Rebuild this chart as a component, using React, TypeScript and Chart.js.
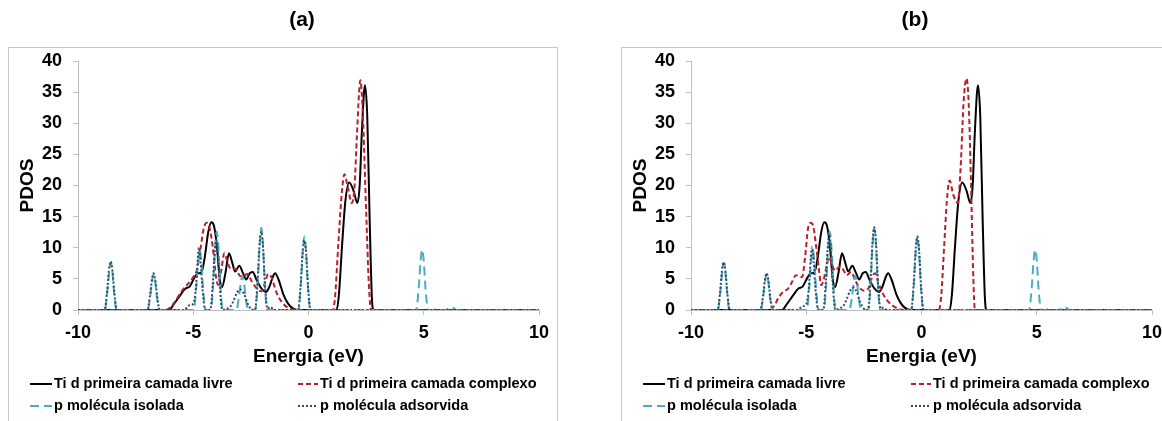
import React, { useEffect, useRef } from "react";
import { Chart, registerables } from "chart.js";

Chart.register(...registerables);

// ---------- data ----------
const xTickStep = 5;
const yTickStep = 5;
const xMin = -10;
const xMax = 10;
const yMin = 0;
const yMax = 40;

const seriesLabels = [
  "Ti d primeira camada livre",
  "Ti d primeira camada complexo",
  "p molécula isolada",
  "p molécula adsorvida",
];

// Ti d first layer, free surface (same in both panels)
const tiLivreE = [-10, -6.05, -5.85, -5.6, -5.35, -5.15, -4.95, -4.8, -4.65, -4.5, -4.35, -4.22, -4.1, -3.98, -3.85, -3.75, -3.6, -3.45, -3.3, -3.18, -3.0, -2.85, -2.7, -2.55, -2.42, -2.25, -2.05, -1.85, -1.7, -1.55, -1.45, -1.3, -1.1, -0.9, -0.7, -0.45, 1.22, 1.32, 1.45, 1.6, 1.77, 1.95, 2.12, 2.22, 2.32, 2.45, 2.55, 2.65, 2.75, 2.82, 10];
const tiLivreV = [0, 0, 0.9, 2.2, 3.4, 3.8, 5.2, 5.9, 6.0, 8.5, 12.5, 14.1, 13.5, 10.5, 5.0, 3.7, 6.0, 9.1, 7.5, 6.2, 7.1, 6.0, 4.9, 5.9, 6.1, 4.8, 3.5, 2.9, 3.7, 5.3, 5.9, 4.9, 2.6, 1.1, 0.3, 0, 0, 2.5, 10, 17.5, 20.5, 19.2, 17.2, 20, 29, 36.1, 31, 15, 2, 0, 0];

// Ti d first layer, complex — panel (a)
const tiComplexoAE = [-10, -6.2, -6.0, -5.8, -5.6, -5.4, -5.2, -5.0, -4.85, -4.7, -4.55, -4.42, -4.3, -4.15, -4.0, -3.9, -3.78, -3.65, -3.5, -3.35, -3.15, -2.98, -2.85, -2.65, -2.45, -2.2, -2.05, -1.9, -1.75, -1.6, -1.4, -1.2, -0.95, -0.7, -0.5, 1.05, 1.15, 1.3, 1.45, 1.56, 1.7, 1.88, 2.0, 2.1, 2.25, 2.35, 2.5, 2.62, 2.72, 10];
const tiComplexoAV = [0, 0, 0.4, 1.3, 2.5, 3.5, 4.3, 5.3, 6.3, 9.5, 13, 14, 13.3, 10, 5, 4.0, 6.5, 9.1, 7.5, 6.5, 6.6, 5.5, 5.4, 5.8, 4.5, 3.3, 3.0, 4.2, 5.8, 5.2, 2.9, 1.5, 0.5, 0.1, 0, 0, 2, 11, 19, 21.8, 19.8, 17.2, 20, 28, 36.9, 32, 16, 4, 0, 0];

// Ti d first layer, complex — panel (b)
const tiComplexoBE = [-10, -6.6, -6.4, -6.2, -6.0, -5.8, -5.6, -5.45, -5.3, -5.18, -5.05, -4.92, -4.82, -4.7, -4.58, -4.45, -4.35, -4.25, -4.12, -4.0, -3.9, -3.75, -3.55, -3.4, -3.25, -3.05, -2.9, -2.75, -2.5, -2.3, -2.12, -2.0, -1.88, -1.7, -1.5, -1.25, -1.0, -0.8, 0.75, 0.85, 0.98, 1.1, 1.22, 1.38, 1.57, 1.7, 1.82, 1.95, 2.05, 2.15, 2.25, 2.32, 10];
const tiComplexoBV = [0, 0, 0.6, 2.0, 2.9, 3.4, 4.6, 5.6, 5.4, 5.3, 8.5, 13.2, 14, 13.5, 10.5, 6.5, 4.0, 4.8, 7.0, 8.5, 7.5, 6.3, 7.0, 6.5, 5.6, 6.1, 5.0, 3.9, 3.1, 3.5, 5.5, 5.9, 4.5, 2.8, 1.6, 0.7, 0.2, 0, 0, 2, 10, 17.5, 20.8, 18.5, 17.2, 23, 33, 37.2, 33, 20, 5, 0, 0];

// p states of the isolated molecule (same in both panels)
const pIsoladaE = [-10, -8.84, -8.73, -8.65, -8.58, -8.51, -8.43, -8.33, -6.98, -6.87, -6.79, -6.72, -6.65, -6.57, -6.46, -4.98, -4.87, -4.79, -4.72, -4.65, -4.57, -4.46, -4.24, -4.13, -4.05, -3.98, -3.91, -3.83, -3.72, -3.13, -3.02, -2.94, -2.87, -2.8, -2.72, -2.61, -2.31, -2.2, -2.12, -2.05, -1.98, -1.9, -1.79, -0.44, -0.33, -0.25, -0.18, -0.11, -0.03, 0.08, 4.67, 4.78, 4.86, 4.93, 5.0, 5.08, 5.19, 5.4, 5.55, 5.7, 5.95, 6.2, 6.45, 10];
const pIsoladaV = [0, 0, 2.8, 6.0, 7.6, 6.2, 2.6, 0, 0, 2.1, 4.5, 5.8, 4.7, 1.9, 0, 0, 3.5, 7.6, 9.6, 7.8, 3.3, 0, 0, 4.5, 10.0, 12.6, 10.2, 4.3, 0, 0, 2.0, 4.3, 5.5, 4.5, 1.8, 0, 0, 4.7, 10.5, 13.2, 10.7, 4.5, 0, 0, 4.2, 9.3, 11.8, 9.5, 4.0, 0, 0, 3.5, 7.7, 9.7, 7.9, 3.3, 0, 0, 0.25, 0, 0, 0.5, 0, 0];

// p states of the adsorbed molecule
const pAdsorvidaE = [-10, -8.85, -8.74, -8.66, -8.58, -8.5, -8.42, -8.31, -6.99, -6.88, -6.8, -6.72, -6.64, -6.56, -6.45, -5.4, -5.15, -5.0, -4.88, -4.81, -4.75, -4.68, -4.6, -4.48, -4.26, -4.15, -4.07, -4.0, -3.93, -3.85, -3.74, -3.55, -3.4, -3.25, -3.1, -2.95, -2.8, -2.65, -2.5, -2.32, -2.21, -2.13, -2.05, -1.97, -1.89, -1.78, -1.65, -1.5, -0.45, -0.34, -0.26, -0.18, -0.1, -0.02, 0.09, 10];
const pAdsorvidaAV = [0, 0, 2.9, 6.3, 7.8, 6.1, 2.7, 0, 0, 2.2, 4.7, 5.9, 4.6, 2.0, 0, 0, 0.8, 1.0, 3.8, 7.8, 10.0, 7.7, 3.4, 0, 0, 4.2, 9.2, 11.3, 9.0, 4.0, 0, 0.2, 0.5, 1.5, 2.8, 3.3, 2.6, 1.1, 0.2, 0, 4.5, 10.1, 12.6, 10.0, 4.2, 0.2, 0.5, 0, 0, 4.0, 9.0, 11.2, 9.0, 3.8, 0, 0];
const pAdsorvidaBV = [0, 0, 2.8, 6.2, 7.7, 6.0, 2.6, 0, 0, 2.1, 4.6, 5.9, 4.7, 2.0, 0, 0, 0.6, 0.9, 3.9, 8.0, 10.1, 7.8, 3.3, 0, 0, 4.6, 9.9, 12.2, 9.8, 4.2, 0, 0.3, 0.6, 1.7, 3.1, 3.6, 2.8, 1.2, 0.2, 0, 4.8, 10.7, 13.3, 10.6, 4.4, 0.2, 0.4, 0, 0, 4.1, 9.4, 11.8, 9.3, 3.9, 0, 0];

// ---------- styles ----------
const FONT = "'Liberation Sans', Arial, Helvetica, sans-serif";
const colors = ["#000000", "#b8202c", "#4bacc6", "#2f4c66"];
const dashes: number[][] = [[], [5, 3], [9, 5], [2, 2]];

const zip = (xs: number[], ys: number[]) => {
  const n = Math.min(xs.length, ys.length);
  const out: { x: number; y: number }[] = [];
  for (let i = 0; i < n; i++) out.push({ x: xs[i], y: ys[i] });
  return out;
};

function makeDatasets(tiC: [number[], number[]], pAds: [number[], number[]]) {
  const sources: [number[], number[]][] = [
    [tiLivreE, tiLivreV],
    tiC,
    [pIsoladaE, pIsoladaV],
    pAds,
  ];
  return sources.map((s, i) => ({
    label: seriesLabels[i],
    data: zip(s[0], s[1]),
    borderColor: colors[i],
    backgroundColor: colors[i],
    borderWidth: 2,
    borderDash: dashes[i],
    pointRadius: 0,
    fill: false,
    cubicInterpolationMode: "monotone" as const,
    order: 4 - i,
  }));
}

function decorPlugin(panelLabel: string) {
  return {
    id: "decor",
    beforeDraw(chart: any) {
      const ctx = chart.ctx;
      ctx.save();
      ctx.fillStyle = "#ffffff";
      ctx.fillRect(0, 0, chart.width, chart.height);
      ctx.strokeStyle = "#c8c8c8";
      ctx.lineWidth = 1;
      ctx.strokeRect(8.5, 47.5, 549, 420);
      ctx.restore();
    },
    afterDraw(chart: any) {
      const ctx = chart.ctx;
      ctx.save();
      // panel title
      ctx.fillStyle = "#000";
      ctx.font = `bold 21px ${FONT}`;
      ctx.textAlign = "center";
      ctx.textBaseline = "middle";
      ctx.fillText(panelLabel, 302, 20);
      // legend (2 x 2)
      const slots = [
        { x: 30, w: 22, y: 384 },
        { x: 298, w: 20, y: 384 },
        { x: 30, w: 22, y: 406 },
        { x: 298, w: 20, y: 406 },
      ];
      ctx.font = `bold 14.5px ${FONT}`;
      ctx.textAlign = "left";
      chart.data.datasets.forEach((ds: any, i: number) => {
        const s = slots[i];
        ctx.beginPath();
        ctx.strokeStyle = ds.borderColor;
        ctx.lineWidth = 2;
        ctx.setLineDash(ds.borderDash || []);
        ctx.moveTo(s.x, s.y);
        ctx.lineTo(s.x + s.w, s.y);
        ctx.stroke();
        ctx.setLineDash([]);
        ctx.fillStyle = "#000";
        ctx.fillText(ds.label, s.x + s.w + 2, s.y);
      });
      ctx.restore();
    },
  };
}

const tickFont = { family: FONT, size: 18, weight: "bold" as const };
const titleFont = { family: FONT, size: 19, weight: "bold" as const };

function Panel({ panelLabel, left, tiC, pAds }: { panelLabel: string; left: number; tiC: [number[], number[]]; pAds: [number[], number[]] }) {
  const ref = useRef<HTMLCanvasElement>(null);
  useEffect(() => {
    const chart = new Chart(ref.current as HTMLCanvasElement, {
      type: "line",
      data: { datasets: makeDatasets(tiC, pAds) as any },
      options: {
        responsive: false,
        animation: false,
        events: [],
        layout: { padding: { left: 0, right: 75, top: 61, bottom: 0 } },
        plugins: {
          legend: { display: false },
          tooltip: { enabled: false },
          title: { display: false },
        },
        scales: {
          x: {
            type: "linear",
            min: xMin,
            max: xMax,
            ticks: { stepSize: xTickStep, font: tickFont, color: "#000", padding: 7, maxRotation: 0, autoSkip: false },
            grid: { drawOnChartArea: false, drawTicks: true, tickLength: 5, color: "#bfbfbf" },
            border: { color: "#bfbfbf", width: 1 },
            title: { display: true, text: "Energia (eV)", font: titleFont, color: "#000", padding: { top: 0, bottom: 53 } },
            afterFit: (s: any) => {
              s.height = 111;
            },
          },
          y: {
            type: "linear",
            min: yMin,
            max: yMax,
            ticks: { stepSize: yTickStep, font: tickFont, color: "#000", padding: 11 },
            grid: { drawOnChartArea: false, drawTicks: true, tickLength: 5, color: "#bfbfbf" },
            border: { color: "#bfbfbf", width: 1 },
            title: { display: true, text: "PDOS", font: titleFont, color: "#000", padding: { top: 16, bottom: 0 } },
            afterFit: (s: any) => {
              s.width = 78;
            },
          },
        },
      },
      plugins: [decorPlugin(panelLabel)],
    });
    return () => chart.destroy();
  }, []);
  return (
    <canvas
      ref={ref}
      width={614}
      height={421}
      style={{ position: "absolute", left, top: 0, width: 614, height: 421, display: "block" }}
    />
  );
}

export default function App() {
  return (
    <div
      style={{
        position: "fixed",
        left: 0,
        top: 0,
        width: 1162,
        height: 421,
        overflow: "hidden",
        background: "#fff",
      }}
    >
      <Panel panelLabel="(a)" left={0} tiC={[tiComplexoAE, tiComplexoAV]} pAds={[pAdsorvidaE, pAdsorvidaAV]} />
      <Panel panelLabel="(b)" left={613} tiC={[tiComplexoBE, tiComplexoBV]} pAds={[pAdsorvidaE, pAdsorvidaBV]} />
    </div>
  );
}
